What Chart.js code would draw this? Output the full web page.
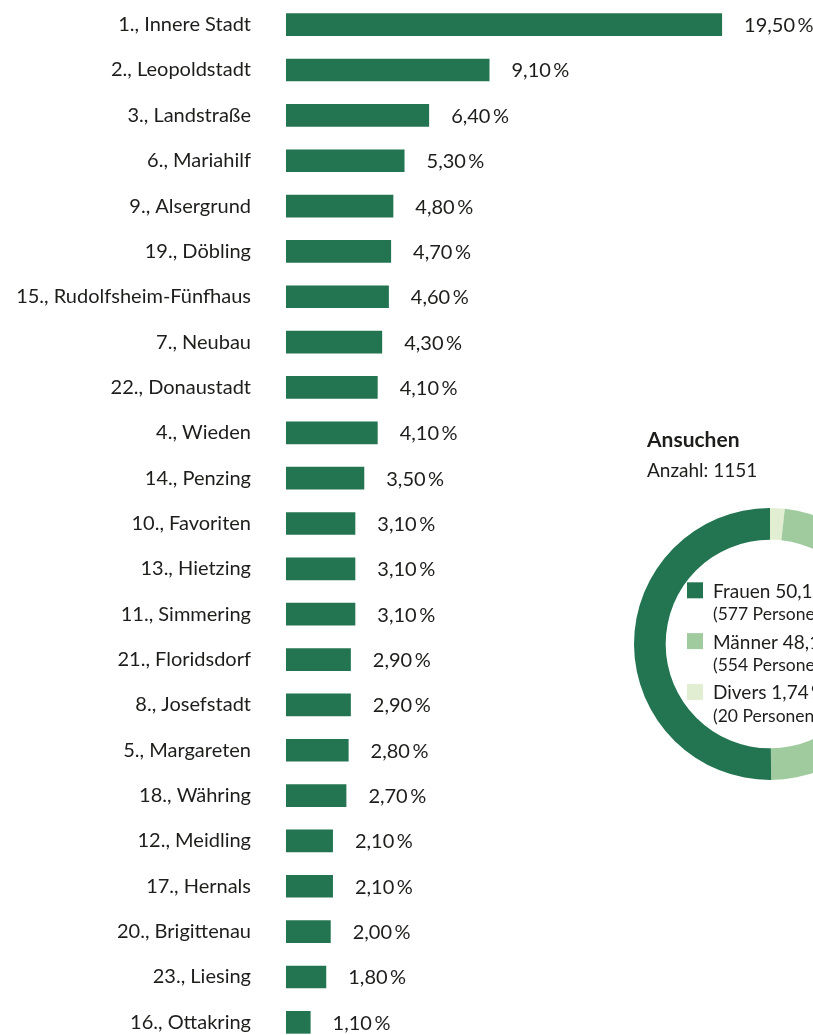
<!DOCTYPE html>
<html lang="de">
<head>
<meta charset="utf-8">
<title>Ansuchen nach Bezirk</title>
<script src="https://cdn.jsdelivr.net/npm/chart.js@4.4.1/dist/chart.umd.min.js"></script>
<style>
  html, body { margin: 0; padding: 0; background: #fff; }
  #page { position: relative; width: 813px; height: 1035px; overflow: hidden; }
  #bezirke { position: absolute; left: 0; top: 0; }
  #geschlecht { position: absolute; left: 600px; top: 400px; }
</style>
</head>
<body>
<div id="page">
  <canvas id="bezirke" width="813" height="1048"></canvas>
  <canvas id="geschlecht" width="400" height="400"></canvas>
</div>
<script>
// Anteil der Ansuchen je Bezirk (in %)
const bezirke = [
  "1., Innere Stadt", "2., Leopoldstadt", "3., Landstraße", "6., Mariahilf",
  "9., Alsergrund", "19., Döbling", "15., Rudolfsheim-Fünfhaus", "7., Neubau",
  "22., Donaustadt", "4., Wieden", "14., Penzing", "10., Favoriten",
  "13., Hietzing", "11., Simmering", "21., Floridsdorf", "8., Josefstadt",
  "5., Margareten", "18., Währing", "12., Meidling", "17., Hernals",
  "20., Brigittenau", "23., Liesing", "16., Ottakring"
];
const anteile = [
  19.5, 9.1, 6.4, 5.3, 4.8, 4.7, 4.6, 4.3, 4.1, 4.1, 3.5, 3.1,
  3.1, 3.1, 2.9, 2.9, 2.8, 2.7, 2.1, 2.1, 2.0, 1.8, 1.1
];

// Ansuchen nach Geschlecht (Reihenfolge im Ring, im Uhrzeigersinn ab 12 Uhr)
const geschlechter = ["Divers", "Männer", "Frauen"];
const personen = [20, 554, 577];
const gesamt = 1151;

const GRUEN = "#237552";
const HELLGRUEN = "#a0cb9f";
const BLASSGRUEN = "#e2eed2";
const TEXT = "#1d1d1b";
const FONT = "Lato, 'Open Sans', sans-serif";

const prozent = (v, d) => v.toFixed(d).replace(".", ",") + "\u2009%";

// Werte rechts neben den Balken
const balkenWerte = {
  id: "balkenWerte",
  afterDatasetsDraw(chart) {
    const ctx = chart.ctx;
    ctx.save();
    ctx.font = "20px " + FONT;
    ctx.fillStyle = TEXT;
    ctx.textAlign = "left";
    ctx.textBaseline = "middle";
    chart.getDatasetMeta(0).data.forEach((bar, i) => {
      ctx.fillText(prozent(anteile[i], 2), bar.x + 22, bar.y + 1);
    });
    ctx.restore();
  }
};

new Chart(document.getElementById("bezirke"), {
  type: "bar",
  data: {
    labels: bezirke,
    datasets: [{
      data: anteile,
      backgroundColor: GRUEN,
      barPercentage: 0.5,
      categoryPercentage: 1.0
    }]
  },
  options: {
    indexAxis: "y",
    responsive: false,
    animation: false,
    layout: { padding: { top: 2, bottom: 3, left: 0, right: 35 } },
    plugins: { legend: { display: false }, tooltip: { enabled: false } },
    scales: {
      x: { display: false, min: 0, max: 22 },
      y: {
        grid: { display: false, drawTicks: false },
        border: { display: false },
        ticks: { color: TEXT, font: { family: FONT, size: 20 }, padding: 35 },
        afterFit(scale) {
          // feste Breite der Beschriftungsspalte, kein Zusatzrand oben/unten
          scale.width = 286;
          scale.paddingTop = 0;
          scale.paddingBottom = 0;
        }
      }
    }
  },
  plugins: [balkenWerte]
});

// Überschrift und Legende in der Mitte des Rings
const ringText = {
  id: "ringText",
  afterDraw(chart) {
    const ctx = chart.ctx;
    ctx.save();
    ctx.fillStyle = TEXT;
    ctx.textBaseline = "alphabetic";
    ctx.font = "bold 21px " + FONT;
    ctx.fillText("Ansuchen", 47, 47);
    ctx.font = "19px " + FONT;
    ctx.fillText("Anzahl: " + gesamt, 47, 77);

    const farben = chart.data.datasets[0].backgroundColor;
    const reihen = [2, 1, 0];
    reihen.forEach((i, r) => {
      const y = 197.8 + r * 50.8;
      ctx.fillStyle = farben[i];
      ctx.fillRect(87, y - 15.5, 16, 16);
      ctx.fillStyle = TEXT;
      ctx.font = "19px " + FONT;
      ctx.fillText(geschlechter[i] + " " + prozent(personen[i] / gesamt * 100, 2), 113, y);
      ctx.font = "17.5px " + FONT;
      ctx.fillText("(" + personen[i] + " Personen)", 113, y + 22.5);
    });
    ctx.restore();
  }
};

new Chart(document.getElementById("geschlecht"), {
  type: "doughnut",
  data: {
    labels: geschlechter,
    datasets: [{
      data: personen,
      backgroundColor: [BLASSGRUEN, HELLGRUEN, GRUEN],
      borderWidth: 0
    }]
  },
  options: {
    responsive: false,
    animation: false,
    cutout: "76.7%",
    layout: { padding: { left: 34, top: 108, right: 94, bottom: 20 } },
    plugins: { legend: { display: false }, tooltip: { enabled: false } }
  },
  plugins: [ringText]
});
</script>
</body>
</html>
